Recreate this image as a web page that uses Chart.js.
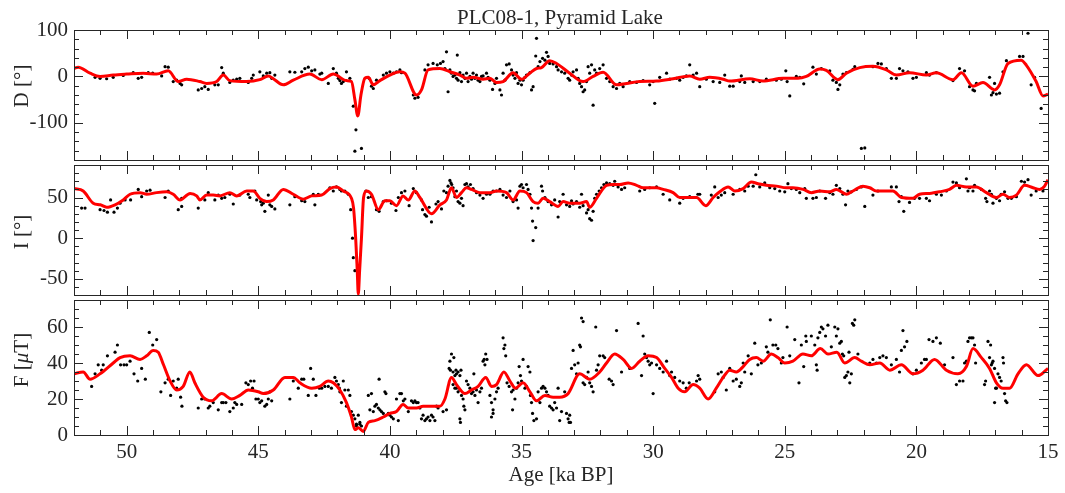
<!DOCTYPE html>
<html>
<head>
<meta charset="utf-8">
<script src="https://cdn.jsdelivr.net/npm/chart.js@4.4.0/dist/chart.umd.min.js"></script>
<style>
  body { margin: 0; background: #fff; }
  #wrap { position: relative; width: 1065px; height: 493px; font-family: "Liberation Serif", serif; color: #262626; }
  #wrap canvas { position: absolute; left: 0; top: 0; }
  .lbl { position: absolute; font-size: 21px; line-height: 21px; white-space: nowrap; }
  .ylbl { transform: translate(-50%, -50%) rotate(-90deg); }
</style>
</head>
<body>
<div id="wrap">
  <canvas id="dChart" width="1065" height="493"></canvas>
  <canvas id="iChart" width="1065" height="493"></canvas>
  <canvas id="fChart" width="1065" height="493"></canvas>
  <div class="lbl" style="left:560px; top:7px; transform:translateX(-50%)">PLC08-1, Pyramid Lake</div>
  <div class="lbl ylbl" style="left:21px; top:86px">D [°]</div>
  <div class="lbl ylbl" style="left:21px; top:232px">I [°]</div>
  <div class="lbl ylbl" style="left:21px; top:360px">F [<i>μ</i>T]</div>
</div>
<script>
// PLC08-1 Pyramid Lake palaeomagnetic record: D, I, F vs age

// ======================
// AXES
// ======================
const AGE_MIN = 15;
const AGE_MAX = 52;
const AGE_TICKS = [50, 45, 40, 35, 30, 25, 20, 15];

const D_RANGE = [-180, 100];
const D_TICKS = [-100, 0, 100];
const I_RANGE = [-70, 90];
const I_TICKS = [-50, 0, 50];
const F_RANGE = [0, 75];
const F_TICKS = [0, 20, 40, 60];

// ======================
// DECLINATION
// ======================
const D_DOTS = [
  [51.20,-2],[51.01,-4],[50.76,-5],[50.51,-2],[50.13,2],[49.75,8],[49.56,-4],[49.43,-2],[49.18,8],[49.01,7],
  [48.67,1],[48.54,21],[48.42,20],[48.23,-11],[48.10,-8],[47.97,-15],[47.91,-18],[47.28,-29],[47.15,-26],[47.03,-22],
  [46.90,-28],[46.65,-18],[46.52,-18],[46.39,19],[46.33,7],[46.08,-13],[45.95,-8],[45.82,-6],[45.70,-4],[45.38,-13],
  [45.25,-4],[45.19,3],[44.94,10],[44.81,1],[44.68,7],[44.56,8],[44.49,-4],[44.37,3],[43.80,10],[43.61,9],
  [43.35,10],[43.23,17],[43.10,20],[42.97,12],[42.85,14],[42.66,5],[42.59,7],[42.34,-15],[42.15,17],[42.03,7],
  [41.96,-4],[41.90,-9],[41.84,-15],[41.77,-11],[41.65,10],[41.52,-4],[41.39,-64],[41.29,-115],[41.33,-161],[41.08,-155],
  [40.79,-4],[40.70,-21],[40.63,-26],[40.51,-8],[40.25,3],[40.13,7],[40.00,10],[39.87,7],[39.75,10],[39.62,14],
  [39.56,8],[39.11,-40],[39.05,-47],[38.93,-45],[38.67,14],[38.55,25],[38.36,28],[38.20,25],[38.08,28],[37.98,32],
  [37.91,17],[37.85,53],[37.79,-33],[37.72,14],[37.66,7],[37.60,0],[37.53,3],[37.47,-4],[37.44,46],[37.41,-8],
  [37.34,8],[37.28,-11],[37.22,3],[37.15,-4],[37.09,7],[37.03,-11],[36.96,0],[36.90,-6],[36.84,7],[36.77,-4],
  [36.71,3],[36.65,-8],[36.58,-11],[36.52,0],[36.46,1],[36.33,7],[36.27,-2],[36.20,-8],[36.10,-28],[36.01,-15],
  [35.95,-4],[35.82,-29],[35.76,-40],[35.70,7],[35.63,-8],[35.57,25],[35.47,27],[35.38,14],[35.32,3],[35.25,-4],
  [35.19,8],[35.13,-15],[35.06,-8],[35.00,-18],[34.94,-8],[34.87,-2],[34.81,3],[34.68,8],[34.62,-29],[34.56,-22],
  [34.46,44],[34.43,82],[34.37,21],[34.30,32],[34.20,39],[34.11,35],[34.05,52],[33.99,43],[33.93,28],[33.80,27],
  [33.67,21],[33.61,14],[33.48,10],[33.36,7],[33.23,-4],[33.17,-8],[33.10,3],[33.04,10],[32.91,14],[32.85,-4],
  [32.79,-15],[32.72,-22],[32.66,-33],[32.60,-29],[32.53,-11],[32.47,21],[32.41,7],[32.34,25],[32.28,-62],[32.22,14],
  [32.15,7],[32.03,17],[31.90,25],[31.77,-4],[31.65,-11],[31.52,-22],[31.39,-26],[31.27,-15],[31.14,-22],[30.89,-11],
  [30.63,-13],[30.38,-9],[30.13,-18],[30.00,-11],[29.94,-58],[29.75,-2],[29.49,7],[29.37,-6],[29.11,-4],[28.99,-8],
  [28.86,-2],[28.74,1],[28.61,25],[28.48,3],[28.35,7],[28.23,-22],[27.98,-6],[27.72,-11],[27.47,-13],[27.28,3],
  [27.09,-21],[26.96,-21],[26.71,-11],[26.65,1],[26.52,-13],[26.20,-11],[25.95,-11],[25.70,-6],[25.32,-8],[25.13,-6],
  [24.96,12],[24.91,-11],[24.81,-42],[24.56,0],[24.43,-2],[24.28,-16],[23.93,20],[23.80,5],[23.61,17],[23.29,12],
  [23.17,-8],[23.04,-13],[22.98,-28],[22.91,-18],[22.79,5],[22.66,8],[22.41,15],[22.34,21],[22.09,-155],[21.96,-154],
  [21.65,21],[21.46,28],[21.33,27],[21.14,17],[20.95,-4],[20.76,-4],[20.64,17],[20.51,12],[20.32,10],[20.13,-4],
  [20.00,-2],[19.62,8],[19.50,3],[19.24,8],[18.61,-9],[18.36,17],[18.17,12],[17.98,-22],[17.85,-29],[17.79,-31],
  [17.72,-15],[17.22,-2],[17.15,-40],[17.09,-35],[17.03,-15],[16.96,-38],[16.84,-36],[16.71,10],[16.58,34],[16.08,43],
  [15.95,43],[15.76,93],[15.64,-18],[15.51,-2],[15.26,-69]
];
const D_CURVE = [
  [52.00,17],[51.84,20],[51.39,7],[51.01,0],[50.51,3],[50.00,5],[49.37,7],[48.86,5],[48.42,12],[48.04,-11],
  [47.72,-6],[47.22,-11],[46.96,-15],[46.58,-11],[46.33,3],[46.08,-9],[45.44,-11],[44.94,-7],[44.62,1],[44.43,-5],
  [44.05,-18],[43.67,-8],[43.04,5],[42.59,-7],[42.15,5],[41.65,-9],[41.46,-11],[41.33,-50],[41.22,-85],[41.10,-40],
  [40.95,-4],[40.82,-2],[40.63,-18],[40.38,-9],[40.00,3],[39.62,10],[39.43,7],[38.99,-40],[38.80,-29],[38.55,14],
  [38.10,17],[37.72,10],[37.34,3],[37.09,-4],[36.84,-2],[36.46,-6],[36.20,-4],[35.95,-13],[35.70,-11],[35.32,8],
  [35.00,-6],[34.69,7],[34.43,17],[34.24,19],[33.93,34],[33.67,28],[33.17,7],[32.66,-11],[32.28,0],[31.90,9],
  [31.39,-18],[31.01,-15],[30.51,-11],[29.87,-10],[29.24,-5],[28.61,1],[28.23,-6],[27.85,-2],[27.34,-6],[27.09,-10],
  [26.33,-5],[25.83,-10],[25.07,-4],[24.50,-4],[24.18,0],[23.67,16],[23.42,13],[22.98,-7],[22.66,7],[22.15,19],
  [21.65,22],[21.14,14],[20.76,3],[20.26,8],[19.62,3],[19.24,8],[18.61,-7],[18.29,8],[17.85,-21],[17.47,-13],
  [17.03,-29],[16.84,-18],[16.52,28],[16.02,35],[15.82,24],[15.45,-11],[15.19,-42],[15.00,-38]
];

// ======================
// INCLINATION
// ======================
const I_DOTS = [
  [51.71,37],[51.58,37],[51.01,35],[50.86,34],[50.73,32],[50.61,47],[50.48,32],[50.35,37],[50.25,43],[50.06,47],
  [49.85,47],[49.56,60],[49.43,51],[49.24,58],[49.11,59],[48.54,50],[48.42,58],[48.04,35],[47.91,39],[47.91,49],
  [47.28,37],[47.03,47],[46.90,56],[46.65,47],[46.52,53],[46.39,49],[46.27,50],[46.08,54],[45.95,42],[45.70,53],
  [45.38,54],[45.32,50],[45.13,58],[45.06,47],[44.91,45],[44.87,41],[44.81,43],[44.75,33],[44.62,53],[44.56,41],
  [44.49,39],[44.37,36],[43.80,41],[43.61,51],[43.35,46],[43.23,45],[42.91,54],[42.85,41],[42.72,54],[42.28,62],
  [42.15,58],[42.03,63],[41.90,60],[41.84,58],[41.71,58],[41.58,54],[41.49,35],[41.42,0],[41.39,-24],[41.33,-40],
  [40.91,58],[40.82,50],[40.70,51],[40.51,35],[40.41,33],[40.25,45],[40.13,46],[39.94,43],[39.77,34],[39.68,50],
  [39.56,56],[39.43,58],[39.27,40],[39.11,61],[38.99,56],[38.80,47],[38.76,35],[38.67,29],[38.61,27],[38.51,38],
  [38.42,20],[38.25,42],[38.17,45],[38.04,36],[37.95,58],[37.85,56],[37.79,64],[37.72,71],[37.68,68],[37.65,66],
  [37.60,62],[37.53,51],[37.47,58],[37.41,45],[37.34,43],[37.28,49],[37.22,40],[37.15,66],[37.09,67],[37.03,63],
  [36.94,66],[36.84,61],[36.71,56],[36.58,53],[36.46,49],[36.33,54],[36.20,54],[36.08,58],[35.95,58],[35.82,60],
  [35.70,53],[35.57,50],[35.44,58],[35.32,45],[35.19,47],[35.13,37],[35.06,64],[35.00,66],[34.94,62],[34.81,66],
  [34.75,60],[34.68,54],[34.62,37],[34.58,21],[34.56,-3],[34.46,13],[34.37,37],[34.24,64],[34.20,58],[34.11,50],
  [33.99,45],[33.86,41],[33.74,47],[33.61,26],[33.55,45],[33.42,54],[33.29,41],[33.17,39],[33.10,46],[33.04,42],
  [32.91,45],[32.79,38],[32.72,54],[32.66,40],[32.53,31],[32.47,35],[32.41,24],[32.34,22],[32.28,33],[32.22,49],
  [32.15,54],[32.05,58],[31.96,62],[31.87,66],[31.77,68],[31.65,67],[31.52,65],[31.46,70],[31.33,63],[31.20,60],
  [31.08,62],[30.51,58],[30.32,60],[30.13,62],[29.87,63],[29.62,54],[29.37,47],[28.99,43],[28.86,49],[28.61,51],
  [28.30,54],[28.23,54],[27.79,53],[27.66,63],[27.53,50],[27.41,53],[27.28,56],[26.96,54],[26.71,60],[26.52,58],
  [26.39,64],[26.20,64],[26.10,78],[25.95,63],[25.76,68],[25.57,62],[25.38,61],[25.19,58],[25.00,57],[24.88,67],
  [24.75,61],[24.56,60],[24.43,56],[24.24,61],[24.18,49],[23.93,49],[23.80,50],[23.67,58],[23.45,49],[23.29,56],
  [23.17,54],[23.04,65],[22.91,61],[22.79,54],[22.69,41],[22.60,58],[22.47,57],[22.28,60],[22.09,63],[21.96,39],
  [21.65,53],[21.46,58],[20.95,63],[20.76,63],[20.66,45],[20.57,51],[20.48,33],[20.26,44],[20.07,49],[19.88,49],
  [19.62,49],[19.50,46],[19.24,54],[19.05,53],[18.86,58],[18.61,69],[18.48,68],[18.36,62],[18.10,73],[18.04,58],
  [17.98,62],[17.85,58],[17.79,65],[17.53,60],[17.37,49],[17.32,45],[17.22,58],[17.15,54],[17.09,43],[16.96,49],
  [16.84,46],[16.78,54],[16.65,57],[16.52,49],[16.39,49],[16.20,51],[16.01,70],[15.89,69],[15.76,72],[15.64,53],
  [15.45,58],[15.19,58]
];
const I_CURVE = [
  [52.00,61],[51.65,58],[51.27,43],[51.00,41],[50.76,38],[50.44,41],[50.13,47],[49.87,54],[49.49,56],[49.24,54],
  [48.86,56],[48.48,57],[48.23,54],[47.97,47],[47.59,55],[47.34,52],[47.22,47],[46.96,53],[46.71,53],[46.46,52],
  [46.08,56],[45.82,52],[45.44,58],[45.19,58],[44.94,49],[44.68,45],[44.43,47],[44.05,60],[43.67,54],[43.29,48],
  [42.97,52],[42.59,53],[42.28,61],[42.03,63],[41.77,58],[41.46,49],[41.38,37],[41.30,0],[41.24,-40],[41.20,-69],
  [41.15,-40],[41.08,0],[41.00,50],[40.89,58],[40.70,54],[40.44,35],[40.19,46],[40.00,46],[39.75,40],[39.50,52],
  [39.30,47],[39.05,58],[38.86,50],[38.42,30],[38.10,41],[37.85,47],[37.66,62],[37.47,50],[37.28,56],[37.09,62],
  [36.90,60],[36.58,56],[36.20,56],[35.95,58],[35.57,56],[35.32,47],[35.06,58],[34.81,56],[34.56,45],[34.37,43],
  [34.18,49],[33.93,45],[33.61,39],[33.42,45],[33.17,43],[32.79,43],[32.53,45],[32.41,38],[32.15,49],[31.77,65],
  [31.52,66],[31.27,66],[30.95,68],[30.63,65],[30.38,62],[29.87,62],[29.62,60],[29.24,56],[28.99,50],[28.74,50],
  [28.35,50],[28.00,40],[27.72,50],[27.47,57],[27.15,63],[26.90,58],[26.58,61],[26.27,69],[26.01,67],[25.70,65],
  [25.32,64],[24.94,62],[24.69,62],[24.30,60],[23.99,56],[23.67,58],[23.29,57],[23.04,60],[22.66,54],[22.41,58],
  [22.03,64],[21.77,62],[21.52,58],[20.89,58],[20.57,50],[20.13,49],[19.88,54],[19.50,55],[19.12,57],[18.74,60],
  [18.48,65],[18.10,63],[17.72,63],[17.34,56],[16.96,50],[16.71,54],[16.46,50],[16.20,53],[15.89,65],[15.57,62],
  [15.32,60],[15.13,64],[15.00,72]
];

// ======================
// INTENSITY
// ======================
const F_DOTS = [
  [51.33,27],[51.20,34],[51.08,39],[50.95,36],[50.89,39],[50.73,44],[50.44,46],[50.35,50],[50.23,39],[50.10,39],
  [50.00,39],[49.87,41],[49.72,34],[49.58,30],[49.43,37],[49.29,31],[49.14,57],[49.01,50],[48.86,53],[48.70,24],
  [48.54,29],[48.42,31],[48.33,22],[48.23,30],[48.10,26],[48.04,31],[47.95,21],[47.90,16],[47.28,15],[47.15,20],
  [47.03,20],[46.90,15],[46.84,16],[46.71,18],[46.52,14],[46.39,18],[46.33,18],[46.23,18],[46.08,13],[45.95,15],
  [45.89,18],[45.82,17],[45.63,17],[45.47,29],[45.38,28],[45.29,30],[45.22,26],[45.16,30],[45.09,20],[45.00,20],
  [44.94,18],[44.87,19],[44.75,16],[44.68,17],[44.62,20],[44.56,24],[44.49,19],[43.80,20],[43.67,30],[43.48,26],
  [43.35,31],[43.27,31],[43.10,22],[43.01,37],[42.91,31],[42.81,22],[42.68,26],[42.59,26],[42.47,27],[42.34,27],
  [42.22,26],[42.09,32],[42.03,30],[41.96,28],[41.92,26],[41.90,24],[41.84,18],[41.77,30],[41.71,25],[41.65,16],
  [41.58,25],[41.52,22],[41.46,13],[41.39,11],[41.33,9],[41.27,6],[41.20,11],[41.14,7],[41.27,5],[41.14,6],
  [41.08,5],[40.82,22],[40.76,14],[40.70,23],[40.63,13],[40.57,16],[40.51,17],[40.44,15],[40.41,31],[40.38,14],
  [40.32,13],[40.25,12],[40.19,24],[40.15,23],[40.06,12],[40.00,11],[39.94,10],[39.87,9],[39.75,20],[39.68,8],
  [39.62,23],[39.56,23],[39.49,19],[39.43,20],[39.30,13],[39.18,19],[39.11,18],[39.05,19],[38.99,18],[38.93,18],
  [38.86,15],[38.80,9],[38.74,11],[38.67,8],[38.61,9],[38.55,10],[38.48,8],[38.42,11],[38.36,10],[38.29,8],
  [38.23,16],[38.17,15],[37.98,13],[37.85,14],[37.75,37],[37.72,41],[37.70,36],[37.66,45],[37.60,35],[37.57,43],
  [37.53,33],[37.49,36],[37.47,34],[37.41,35],[37.34,33],[37.30,36],[37.60,28],[37.53,26],[37.47,26],[37.41,24],
  [37.34,25],[37.28,22],[37.22,20],[37.19,16],[37.15,14],[37.34,9],[37.32,7],[37.09,30],[37.03,28],[36.96,26],
  [36.90,23],[36.84,24],[36.81,34],[36.77,22],[36.71,25],[36.65,18],[36.58,24],[36.52,26],[36.46,41],[36.42,42],
  [36.39,39],[36.36,45],[36.31,42],[36.20,22],[36.14,18],[36.08,14],[36.01,20],[36.14,10],[36.08,12],[35.95,24],
  [35.89,26],[35.70,54],[35.67,48],[35.63,50],[35.60,44],[35.55,29],[35.47,27],[35.38,24],[35.34,14],[35.32,25],
  [35.25,20],[35.19,26],[35.13,29],[35.09,38],[35.04,33],[35.00,30],[34.94,42],[34.87,26],[34.81,27],[34.75,38],
  [34.68,35],[34.66,22],[34.62,18],[34.58,12],[34.53,8],[34.43,9],[34.37,24],[34.30,18],[34.24,26],[34.18,27],
  [34.11,26],[34.05,24],[33.99,22],[33.93,16],[33.86,15],[33.80,14],[33.74,18],[33.67,15],[33.61,26],[33.55,8],
  [33.48,13],[33.36,24],[33.29,12],[33.23,9],[33.19,7],[33.14,7],[33.17,11],[33.10,37],[33.04,47],[32.98,39],
  [32.91,34],[32.85,40],[32.79,50],[32.76,49],[32.72,65],[32.66,63],[32.66,29],[32.60,28],[32.53,32],[32.47,35],
  [32.41,29],[32.34,27],[32.28,24],[32.18,60],[32.15,36],[32.09,39],[32.03,44],[31.90,44],[31.84,43],[31.67,31],
  [31.58,30],[31.52,28],[31.39,58],[31.20,35],[30.89,37],[30.57,62],[30.44,33],[30.38,55],[30.32,45],[30.25,43],
  [30.19,41],[30.13,39],[30.06,40],[30.00,23],[29.87,39],[29.75,37],[29.62,35],[29.49,41],[29.37,33],[29.30,35],
  [29.18,32],[28.99,30],[28.86,29],[28.74,26],[28.63,29],[28.35,30],[28.29,33],[28.23,31],[27.66,24],[27.53,34],
  [27.41,35],[27.34,32],[27.22,25],[27.09,37],[26.96,30],[26.84,31],[26.71,27],[26.65,29],[26.58,40],[26.52,35],
  [26.39,44],[26.27,34],[26.14,51],[26.02,39],[25.89,40],[25.70,49],[25.64,46],[25.55,64],[25.45,50],[25.34,50],
  [25.26,48],[25.13,40],[25.07,43],[24.91,60],[24.81,44],[24.62,53],[24.46,29],[24.37,50],[24.28,38],[24.20,55],
  [24.18,52],[23.99,55],[23.86,50],[23.80,39],[23.77,36],[23.74,54],[23.67,57],[23.61,60],[23.55,59],[23.45,55],
  [23.36,61],[23.23,49],[23.10,60],[23.04,55],[22.98,59],[22.91,51],[22.85,52],[22.81,45],[22.76,44],[22.72,32],
  [22.66,33],[22.60,35],[22.56,46],[22.53,29],[22.47,34],[22.43,62],[22.38,61],[22.34,64],[22.22,45],[21.77,40],
  [21.65,42],[21.52,40],[21.39,43],[21.27,44],[21.14,43],[20.95,39],[20.76,42],[20.64,35],[20.57,47],[20.51,58],
  [20.45,49],[20.36,52],[20.13,34],[20.00,36],[19.81,40],[19.69,42],[19.62,42],[19.52,53],[19.37,52],[19.24,54],
  [19.09,51],[18.93,39],[18.61,43],[18.48,28],[18.36,30],[18.23,30],[18.17,40],[18.10,41],[18.04,52],[17.98,54],
  [17.91,54],[17.85,54],[17.79,50],[17.75,40],[17.41,28],[17.37,30],[17.28,52],[17.22,43],[17.18,50],[17.15,39],
  [17.12,40],[17.09,41],[17.03,37],[16.99,26],[16.96,26],[17.03,18],[16.90,34],[16.84,32],[16.78,30],[16.71,43],
  [16.69,40],[16.65,23],[16.61,19],[16.56,18]
];
const F_CURVE = [
  [52.00,34],[51.65,35],[51.39,31],[51.01,34],[50.51,40],[50.25,43],[49.87,44],[49.49,42],[49.24,44],[48.99,47],
  [48.80,46],[48.60,39],[48.35,30],[48.10,25],[47.85,27],[47.60,35],[47.41,29],[47.09,21],[46.77,19],[46.39,23],
  [46.01,20],[45.70,22],[45.38,25],[45.00,24],[44.81,23],[44.43,25],[43.99,32],[43.67,32],[43.42,29],[42.97,26],
  [42.66,27],[42.34,30],[42.15,29],[41.90,25],[41.65,18],[41.46,10],[41.33,3],[41.20,4],[41.01,2],[40.82,7],
  [40.57,8],[40.25,10],[40.00,12],[39.75,13],[39.50,17],[39.30,15],[38.99,15],[38.74,16],[38.48,16],[38.10,16],
  [37.91,20],[37.66,32],[37.47,28],[37.15,23],[36.90,25],[36.65,27],[36.36,32],[36.14,27],[35.95,28],[35.67,35],
  [35.44,30],[35.23,26],[34.94,29],[34.68,24],[34.43,19],[34.11,22],[33.80,21],[33.55,21],[33.23,23],[32.79,34],
  [32.41,31],[32.03,35],[31.77,40],[31.46,45],[31.14,42],[30.82,37],[30.51,41],[30.19,44],[29.87,43],[29.56,37],
  [29.30,32],[29.05,26],[28.80,24],[28.48,28],[28.23,26],[27.91,20],[27.60,26],[27.34,32],[27.09,36],[26.84,35],
  [26.58,38],[26.33,42],[26.08,43],[25.82,41],[25.51,45],[25.26,43],[25.00,40],[24.69,41],[24.31,45],[23.99,44],
  [23.65,48],[23.36,45],[23.02,46],[22.72,40],[22.34,43],[22.09,41],[21.77,39],[21.39,40],[21.01,36],[20.57,39],
  [20.13,34],[19.75,36],[19.31,42],[18.86,36],[18.42,34],[18.10,38],[17.85,48],[17.53,43],[17.22,37],[16.96,29],
  [16.71,26],[16.46,26],[16.14,34],[15.82,39],[15.38,33],[15.00,37]
];

// ======================
// STYLE
// ======================
const INK = "#262626";
Chart.defaults.font.family = '"Liberation Serif", serif';
Chart.defaults.font.size = 21;
Chart.defaults.color = INK;
Chart.defaults.animation = false;

const toXY = (arr) => arr.map(([x, y]) => ({ x, y }));

// frame + inward MATLAB-style ticks on all four sides
const frameTicks = {
  id: "frameTicks",
  afterDraw(chart, args, opts) {
    const { ctx, chartArea: a, scales: { x, y } } = chart;
    ctx.save();
    ctx.strokeStyle = INK;
    ctx.lineWidth = 1;
    ctx.beginPath();
    for (let v = AGE_MIN; v <= AGE_MAX; v++) {
      const px = Math.round(x.getPixelForValue(v)) + 0.5;
      const len = v % 5 === 0 ? 9 : 5;
      ctx.moveTo(px, a.bottom); ctx.lineTo(px, a.bottom - len);
      ctx.moveTo(px, a.top); ctx.lineTo(px, a.top + len);
    }
    for (let v = y.min; v <= y.max; v += opts.minor) {
      const py = Math.round(y.getPixelForValue(v)) + 0.5;
      const len = opts.major.includes(v) ? 9 : 5;
      ctx.moveTo(a.left, py); ctx.lineTo(a.left + len, py);
      ctx.moveTo(a.right, py); ctx.lineTo(a.right - len, py);
    }
    ctx.stroke();
    ctx.strokeRect(Math.round(a.left) + 0.5, Math.round(a.top) + 0.5,
      Math.round(a.width), Math.round(a.height));
    ctx.restore();
  },
};

function makePanel(id, dots, curve, range, ticks, minor, pad, showX) {
  return new Chart(document.getElementById(id), {
    data: {
      datasets: [
        {
          type: "line",
          data: toXY(curve),
          borderColor: "#ff0000",
          borderWidth: 3,
          pointRadius: 0,
          cubicInterpolationMode: "monotone",
        },
        {
          type: "scatter",
          data: toXY(dots),
          pointRadius: 1.6,
          pointBorderWidth: 0,
          pointBackgroundColor: "#000",
        },
      ],
    },
    options: {
      responsive: false,
      layout: { padding: { top: pad[0], bottom: pad[1], left: 0, right: 17 } },
      plugins: {
        legend: { display: false },
        tooltip: { enabled: false },
        frameTicks: { minor, major: ticks },
      },
      scales: {
        x: {
          type: "linear",
          reverse: true,
          min: AGE_MIN,
          max: AGE_MAX,
          display: showX,
          grid: { display: false, drawTicks: false },
          border: { display: false },
          ticks: { padding: 5, maxRotation: 0 },
          afterBuildTicks: (s) => { s.ticks = AGE_TICKS.map((v) => ({ value: v })); },
          afterFit: (s) => { if (showX) s.height = 58; },
          title: { display: showX, text: "Age [ka BP]", padding: { top: 0, bottom: 5 } },
        },
        y: {
          min: range[0],
          max: range[1],
          grid: { display: false, drawTicks: false },
          border: { display: false },
          ticks: { padding: 6 },
          afterBuildTicks: (s) => { s.ticks = ticks.map((v) => ({ value: v })); },
          afterFit: (s) => { s.width = 74; },
        },
      },
    },
    plugins: [frameTicks],
  });
}

makePanel("dChart", D_DOTS, D_CURVE, D_RANGE, D_TICKS, 20, [30, 333], false);
makePanel("iChart", I_DOTS, I_CURVE, I_RANGE, I_TICKS, 10, [165, 198], false);
makePanel("fChart", F_DOTS, F_CURVE, F_RANGE, F_TICKS, 5, [300, 0], true);
</script>
</body>
</html>
